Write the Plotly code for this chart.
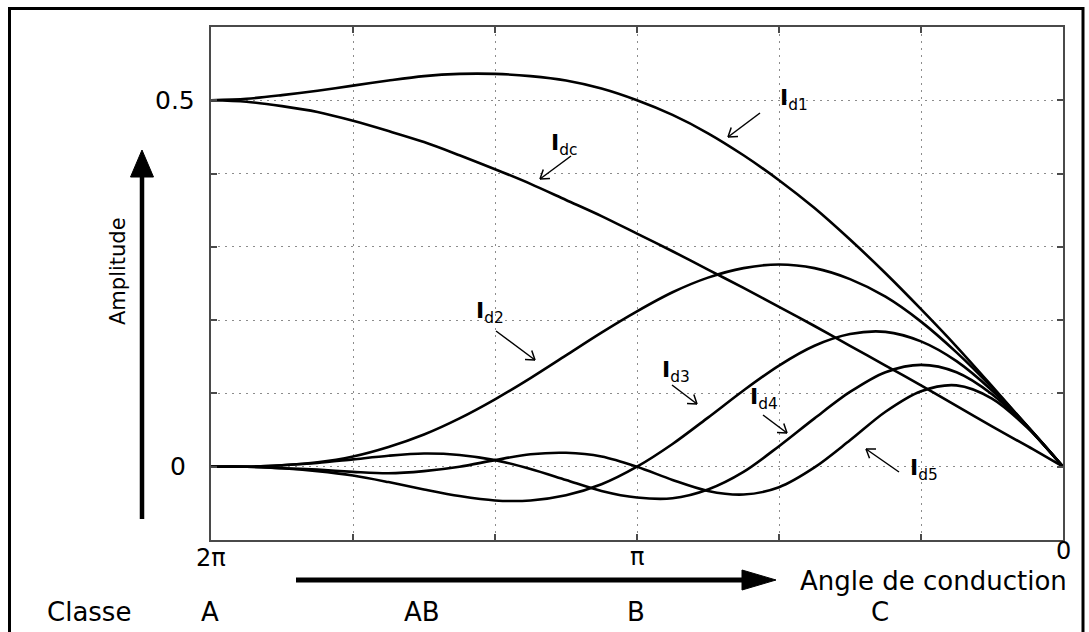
import math
import plotly.graph_objects as go

# ---------------- data ----------------
# conduction angle in degrees (axis runs from 2*pi on the left to 0 on the right)
alpha_deg = [0, 15, 30, 45, 60, 75, 90, 105, 120, 135, 150, 165, 180,
             195, 210, 225, 240, 255, 270, 285, 300, 315, 330, 345, 360]

i_dc = [0.000, 0.028, 0.055, 0.083, 0.111, 0.138, 0.165, 0.192, 0.218, 0.244, 0.269, 0.294, 0.318,
        0.342, 0.364, 0.386, 0.406, 0.425, 0.443, 0.458, 0.472, 0.484, 0.492, 0.498, 0.500]
i_d1 = [0.000, 0.055, 0.110, 0.164, 0.215, 0.264, 0.310, 0.353, 0.391, 0.425, 0.455, 0.480, 0.500,
        0.516, 0.527, 0.533, 0.536, 0.536, 0.533, 0.527, 0.520, 0.513, 0.507, 0.502, 0.500]
i_d2 = [0.000, 0.055, 0.108, 0.156, 0.198, 0.232, 0.256, 0.271, 0.276, 0.271, 0.258, 0.238, 0.212,
        0.183, 0.152, 0.121, 0.092, 0.066, 0.044, 0.027, 0.014, 0.006, 0.002, 0.000, 0.000]
i_d3 = [0.000, 0.055, 0.104, 0.144, 0.171, 0.184, 0.181, 0.165, 0.138, 0.104, 0.067, 0.031, 0.000,
        -0.024, -0.039, -0.046, -0.046, -0.040, -0.031, -0.021, -0.012, -0.006, -0.002, 0.000, 0.000]
i_d4 = [0.000, 0.054, 0.099, 0.129, 0.139, 0.129, 0.102, 0.066, 0.028, -0.007, -0.031, -0.043, -0.042,
        -0.033, -0.018, -0.003, 0.009, 0.016, 0.018, 0.015, 0.010, 0.005, 0.002, 0.000, 0.000]
i_d5 = [0.000, 0.053, 0.093, 0.111, 0.103, 0.075, 0.036, -0.001, -0.028, -0.038, -0.033, -0.018, 0.000,
        0.014, 0.019, 0.017, 0.009, 0.000, -0.006, -0.009, -0.007, -0.004, -0.002, 0.000, 0.000]

x_grid_vals = [0, 60, 120, 180, 240, 300, 360]
y_grid_vals = [-0.1, 0.0, 0.1, 0.2, 0.3, 0.4, 0.5, 0.6]
x_tick_vals = [360, 180, 0]
x_tick_text = ["2π", "π", "0"]
y_tick_vals = [0.5, 0.0]
y_tick_text = ["0.5", "0"]
class_names = ["A", "AB", "B", "C"]
curve_labels = ["dc", "d1", "d2", "d3", "d4", "d5"]

series = [i_dc, i_d1, i_d2, i_d3, i_d4, i_d5]

# ---------------- layout geometry (pixels) ----------------
W, H = 1089, 632
L, R, T, B = 211, 1063, 27, 540
FONT = "DejaVu Sans"


def P(px, py):
    """pixel -> paper coordinates"""
    return (px - L) / (R - L), (B - py) / (B - T)


fig = go.Figure()
for vals in series:
    fig.add_trace(go.Scatter(
        x=alpha_deg, y=vals, mode="lines",
        line=dict(color="black", width=2.6, shape="spline", smoothing=0.9),
        showlegend=False, hoverinfo="skip"))

axis_common = dict(
    showgrid=True, gridcolor="#8c8c8c", griddash="2px,5px", gridwidth=1.4,
    showline=True, linecolor="#4a4a4a", linewidth=2, mirror="ticks",
    ticks="inside", ticklen=6, tickcolor="#4a4a4a", tickwidth=1.5,
    showticklabels=False, zeroline=False,
)

fig.update_xaxes(range=[360, 0], tickmode="array", tickvals=x_grid_vals, **axis_common)
fig.update_yaxes(range=[-0.1, 0.6], tickmode="array", tickvals=y_grid_vals, **axis_common)

annotations = []
shapes = []

# y tick labels
for v, t in zip(y_tick_vals, y_tick_text):
    px = 175 if t == "0.5" else 178
    annotations.append(dict(x=P(px, 0)[0], y=v, xref="paper", yref="y", text=t,
                            showarrow=False, xanchor="center", yanchor="middle",
                            font=dict(family=FONT, size=25, color="black")))
# x tick labels
x_label_px = {"2π": (208, 558), "π": (636, 557), "0": (1061, 551)}
for v, t in zip(x_tick_vals, x_tick_text):
    _, py = x_label_px[t]
    annotations.append(dict(x=v, y=P(0, py)[1], xref="x", yref="paper", text=t,
                            showarrow=False, xanchor="center", yanchor="middle",
                            font=dict(family=FONT, size=24, color="black")))

# axis titles
ax_, ay_ = P(933, 581)
annotations.append(dict(x=ax_, y=ay_, xref="paper", yref="paper", text="Angle de conduction",
                        showarrow=False, xanchor="center", yanchor="middle",
                        font=dict(family=FONT, size=26, color="black")))
ax_, ay_ = P(118, 271)
annotations.append(dict(x=ax_, y=ay_, xref="paper", yref="paper", text="Amplitude",
                        showarrow=False, xanchor="center", yanchor="middle", textangle=-90,
                        font=dict(family=FONT, size=21, color="black")))

# class row
class_px = [210, 422, 636, 880]
ax_, ay_ = P(89, 612)
annotations.append(dict(x=ax_, y=ay_, xref="paper", yref="paper", text="Classe",
                        showarrow=False, xanchor="center", yanchor="middle",
                        font=dict(family=FONT, size=26, color="black")))
for name, px in zip(class_names, class_px):
    ax_, ay_ = P(px, 612)
    annotations.append(dict(x=ax_, y=ay_, xref="paper", yref="paper", text=name,
                            showarrow=False, xanchor="center", yanchor="middle",
                            font=dict(family=FONT, size=26, color="black")))

# curve labels  (left of the bold I, centre of the I)
label_pos = {"dc": (549, 144), "d1": (778, 99), "d2": (474, 312),
             "d3": (660, 371), "d4": (748, 398), "d5": (908, 469)}
for lab in curve_labels:
    px, py = label_pos[lab]
    ax_, ay_ = P(px, py)
    annotations.append(dict(x=ax_, y=ay_, xref="paper", yref="paper",
                            text="<b>I</b><sub>" + lab + "</sub>",
                            showarrow=False, xanchor="left", yanchor="middle",
                            font=dict(family=FONT, size=22, color="black")))

# small pointer arrows (tail -> tip) with open V heads
pointers = [((760, 113), (728, 137)), ((571, 156), (540, 179)), ((496, 331), (535, 360)),
            ((672, 385), (697, 404)), ((763, 415), (787, 433)), ((899, 472), (866, 449))]


def seg(p0, p1, width, color="black"):
    x0, y0 = P(*p0)
    x1, y1 = P(*p1)
    return dict(type="line", xref="paper", yref="paper", x0=x0, y0=y0, x1=x1, y1=y1,
                line=dict(color=color, width=width))


for tail, tip in pointers:
    shapes.append(seg(tail, tip, 1.5))
    ang = math.atan2(tail[1] - tip[1], tail[0] - tip[0])
    for d in (-0.6, 0.6):
        hx = tip[0] + 10 * math.cos(ang + d)
        hy = tip[1] + 10 * math.sin(ang + d)
        shapes.append(seg(tip, (hx, hy), 1.5))


def tri(pts):
    s = ""
    for i, (px, py) in enumerate(pts):
        x, y = P(px, py)
        s += ("M" if i == 0 else "L") + f"{x:.5f},{y:.5f} "
    return dict(type="path", xref="paper", yref="paper", path=s + "Z",
                fillcolor="black", line=dict(color="black", width=1))


# big arrows
shapes.append(seg((142, 519), (142, 172), 4.5))
shapes.append(tri([(130.5, 177), (153.5, 177), (142, 150)]))
shapes.append(seg((296, 580), (746, 580), 5))
shapes.append(tri([(742, 570), (742, 590), (776, 580)]))

# outer frame
fx0, fy0 = P(9.5, 8.5)
fx1, fy1 = P(1083, 650)
shapes.append(dict(type="rect", xref="paper", yref="paper", x0=fx0, y0=fy1, x1=fx1, y1=fy0,
                   line=dict(color="black", width=3), fillcolor="rgba(0,0,0,0)"))

fig.update_layout(
    width=W, height=H,
    margin=dict(l=L, r=W - R, t=T, b=H - B, pad=0),
    paper_bgcolor="white", plot_bgcolor="white",
    annotations=annotations, shapes=shapes,
    font=dict(family=FONT, color="black"),
)

fig.write_html("out.html",
               config={"displayModeBar": False},
               post_script="document.body.style.margin='0px';document.body.style.overflow='hidden';")
